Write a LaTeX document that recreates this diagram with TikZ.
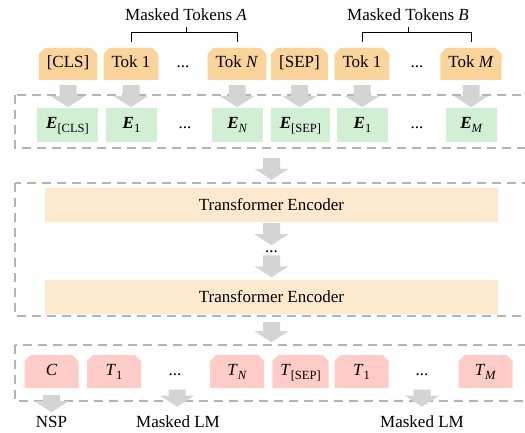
\documentclass[tikz,border=0pt]{standalone}
\usepackage{fontspec}
\setmainfont{Liberation Serif}
\usetikzlibrary{positioning, calc}

\definecolor{tokorange}{HTML}{FBD49A}
\definecolor{embgreen}{HTML}{D1F0D3}
\definecolor{encpeach}{HTML}{FDE9CD}
\definecolor{outpink}{HTML}{FFCCC7}
\definecolor{arrowgray}{HTML}{D4D4D4}
\definecolor{dashgray}{HTML}{B4B4B4}

% lowered small text for subscripts
\newcommand{\lowsub}[1]{\raisebox{-3.5pt}{\fontsize{12.5}{14}\selectfont #1}}
\newcommand{\vecE}{\textbf{\textit{E}}}

\tikzset{
  % box with its two upper corners cut off
  cut corners/.style={path picture={
    \fill[#1] (path picture bounding box.south west)
      -- ([yshift=-6pt]path picture bounding box.north west)
      -- ([xshift=6pt]path picture bounding box.north west)
      -- ([xshift=-6pt]path picture bounding box.north east)
      -- ([yshift=-6pt]path picture bounding box.north east)
      -- (path picture bounding box.south east) -- cycle;}},
  tok/.style={rectangle, cut corners=tokorange, inner xsep=8pt, inner ysep=0pt,
    minimum height=32pt, text height=12pt, text depth=4pt},
  emb/.style={rectangle, fill=embgreen, minimum width=51pt, minimum height=34pt,
    inner xsep=9pt, text height=12pt, text depth=4pt},
  enc/.style={rectangle, fill=encpeach, minimum width=453pt, minimum height=34pt},
  outtok/.style={tok, cut corners=outpink, minimum height=33pt, minimum width=54pt},
  dots/.style={inner sep=0pt, text height=12pt, text depth=4pt},
  lbl/.style={inner sep=0pt},
  dashbox/.style={draw=dashgray, line width=1.3pt, dash pattern=on 9pt off 6pt},
  bracket/.style={draw=black, line width=0.8pt},
  arrlen/.store in=\arrlen, arrlen=22,
  down arrow/.pic={
    \fill[arrowgray] (-8.5,0) -- (8.5,0) -- (8.5,{11-\arrlen}) -- (17,{11-\arrlen})
      -- (0,-\arrlen) -- (-17,{11-\arrlen}) -- (-8.5,{11-\arrlen}) -- cycle;
  }
}

\begin{document}
\begin{tikzpicture}[x=1pt, y=1pt, font=\fontsize{17}{20}\selectfont]
  \useasboundingbox (0,0) rectangle (525,432);

  % Dashed frames
  \draw[dashbox] (15,337) rectangle (545,284);
  \draw[dashbox] (15,249) rectangle (545,116);
  \draw[dashbox] (15,87) rectangle (545,31);

  % Input tokens
  \node[tok] (cls) at (68,368) {[CLS]};
  \node[tok] (tokA1) at (131,368) {Tok 1};
  \node[dots] (dotsA) at (183,368) {...};
  \node[tok] (tokAN) at (237,368) {Tok \textit{N}};
  \node[tok] (sep) at (299.5,368) {[SEP]};
  \node[tok] (tokB1) at (362,368) {Tok 1};
  \node[dots] (dotsB) at (417,368) {...};
  \node[tok] (tokBM) at (471,368) {Tok \textit{M}};

  % Masked token groups
  \node[lbl] (mtA) at (186,417) {Masked Tokens \textit{A}};
  \node[lbl] (mtB) at (408,417) {Masked Tokens \textit{B}};
  \draw[bracket] ($(tokA1.north)+(0,6)$) |- ($(tokAN.north)+(0,15)$) -- ($(tokAN.north)+(0,6)$);
  \draw[bracket] ($(tokB1.north)+(0,6)$) |- ($(tokBM.north)+(0,15)$) -- ($(tokBM.north)+(0,6)$);
  \draw[bracket] (mtA.south |- tokA1.north) ++(0,15) -- ++(0,6);
  \draw[bracket] (mtB.south |- tokB1.north) ++(0,15) -- ++(0,6);

  % Embeddings
  \node[emb] (eCls) at (67.5,307) {\vecE\lowsub{[CLS]}};
  \node[emb] (eA1) at (131.5,307) {\vecE\lowsub{1}};
  \node[dots] (dotsE1) at (185,307) {...};
  \node[emb] (eAN) at (237.5,307) {\vecE\lowsub{\textit{N}}};
  \node[emb] (eSep) at (300.5,307) {\vecE\lowsub{[SEP]}};
  \node[emb] (eB1) at (362.5,307) {\vecE\lowsub{1}};
  \node[dots] (dotsE2) at (417,307) {...};
  \node[emb] (eBM) at (471.5,307) {\vecE\lowsub{\textit{M}}};

  % Encoder stack
  \node[enc] (enc1) at (271.5,227) {Transformer Encoder};
  \node[dots] (dotsEnc) at (271.5,184) {...};
  \node[enc] (enc2) at (271.5,135.5) {Transformer Encoder};

  % Outputs
  \node[outtok] (c) at (51.5,60.5) {\textit{C}};
  \node[outtok] (tA1) at (114,60.5) {\textit{T}\lowsub{1}};
  \node[dots] (dotsT1) at (175,60.5) {...};
  \node[outtok] (tAN) at (237,60.5) {\textit{T}\lowsub{\textit{N}}};
  \node[outtok] (tSep) at (300.5,60.5) {\textit{T}\lowsub{[SEP]}};
  \node[outtok] (tB1) at (361.5,60.5) {\textit{T}\lowsub{1}};
  \node[dots] (dotsT2) at (422,60.5) {...};
  \node[outtok] (tBM) at (485.5,60.5) {\textit{T}\lowsub{\textit{M}}};

  % Task labels
  \node[lbl] (nsp) at (51.5,10) {NSP};
  \node[lbl] (mlmA) at (178,10) {Masked LM};
  \node[lbl] (mlmB) at (422,10) {Masked LM};

  % Block arrows
  \foreach \n in {cls,tokA1,tokAN,sep,tokB1,tokBM}
    \pic at ($(\n.south)+(0,-5)$) {down arrow};
  \pic at ($(enc1.north)+(0,30)$) {down arrow};
  \pic at ($(enc1.south)+(0,-1)$) {down arrow};
  \pic at ($(enc2.north)+(0,24)$) {down arrow};
  \pic[arrlen=20] at ($(enc2.south)+(0,-8.5)$) {down arrow};
  \pic[arrlen=17] at ($(c.south)+(0,-7)$) {down arrow};
  \pic[arrlen=17] at ($(dotsT1.south)+(2,-10)$) {down arrow};
  \pic[arrlen=17] at ($(dotsT2.south)+(0,-10)$) {down arrow};
\end{tikzpicture}
\end{document}
